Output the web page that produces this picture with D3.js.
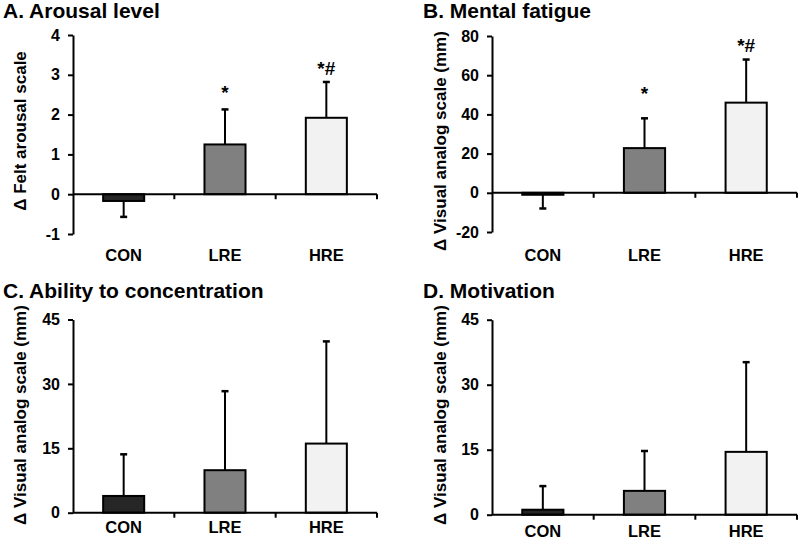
<!DOCTYPE html>
<html><head><meta charset="utf-8">
<script src="https://cdn.jsdelivr.net/npm/d3@7"></script>
<style>
body{margin:0;background:#fff;}
text{font-family:"Liberation Sans",Arial,sans-serif;font-weight:bold;fill:#000;}
</style></head>
<body><svg id="c" width="800" height="544"></svg>
<script>
// ---- data ----
const categories = ["CON", "LRE", "HRE"];
const barColors = ["#262626", "#808080", "#f2f2f2"];

const arousalMean = [-0.17, 1.25, 1.92];
const arousalErr  = [0.40, 0.88, 0.90];
const arousalSig  = ["", "*", "*#"];
const arousalSigY = [null, 2.39, 2.99];
const arousalTicks = [-1, 0, 1, 2, 3, 4];

const fatigueMean = [-1, 22.8, 46];
const fatigueErr  = [7, 15.2, 22];
const fatigueSig  = ["", "*", "*#"];
const fatigueSigY = [null, 47.6, 71.6];
const fatigueTicks = [-20, 0, 20, 40, 60, 80];

const concMean = [3.9, 9.9, 16.1];
const concErr  = [9.7, 18.4, 23.8];
const motivMean = [1.15, 5.5, 14.5];
const motivErr  = [5.45, 9.2, 20.7];
const vasTicks = [0, 15, 30, 45];

const panels = [
  {title:"A. Arousal level", ylabel:"Δ Felt arousal scale", mean:arousalMean, err:arousalErr, sig:arousalSig, sigY:arousalSigY, ticks:arousalTicks,
   tx:3, ty:18, x0:73, x1:377, yTop:35, yBot:234, labX:26, labY:131, catY:261},
  {title:"B. Mental fatigue", ylabel:"Δ Visual analog scale (mm)", mean:fatigueMean, err:fatigueErr, sig:fatigueSig, sigY:fatigueSigY, ticks:fatigueTicks,
   tx:423, ty:18, x0:492, x1:797, yTop:36, yBot:232, labX:446, labY:141, catY:261},
  {title:"C. Ability to concentration", ylabel:"Δ Visual analog scale (mm)", mean:concMean, err:concErr, sig:null, sigY:null, ticks:vasTicks,
   tx:3, ty:298, x0:73, x1:377, yTop:319.5, yBot:512.7, labX:26, labY:415, catY:533},
  {title:"D. Motivation", ylabel:"Δ Visual analog scale (mm)", mean:motivMean, err:motivErr, sig:null, sigY:null, ticks:vasTicks,
   tx:423, ty:298, x0:492, x1:797, yTop:319.7, yBot:514.7, labX:446, labY:415, catY:537}
];

const svg = d3.select("#c");

panels.forEach(p => {
  const g = svg.append("g");
  const x = d3.scaleBand().domain(categories).range([p.x0, p.x1]).padding(0);
  const y = d3.scaleLinear().domain(d3.extent(p.ticks)).range([p.yBot, p.yTop]);
  const bw = x.bandwidth() * 0.405;
  const cx = c => x(c) + x.bandwidth() / 2;

  // title
  g.append("text").attr("x", p.tx).attr("y", p.ty).attr("font-size", 21).text(p.title);
  // y label
  g.append("text").attr("transform", `translate(${p.labX},${p.labY}) rotate(-90)`)
    .attr("text-anchor", "middle").attr("font-size", 17).text(p.ylabel);

  // error bars (drawn first so bars cover the start)
  const data = categories.map((c, i) => ({c, m: p.mean[i], e: p.err[i], i}));
  data.forEach(d => {
    const dir = d.m < 0 ? -1 : 1;
    const end = d.m + dir * d.e;
    g.append("line").attr("x1", cx(d.c)).attr("x2", cx(d.c))
      .attr("y1", y(d.m)).attr("y2", y(end)).attr("stroke", "#000").attr("stroke-width", 2);
    g.append("line").attr("x1", cx(d.c) - 3.5).attr("x2", cx(d.c) + 3.5)
      .attr("y1", y(end)).attr("y2", y(end)).attr("stroke", "#000").attr("stroke-width", 2.5);
  });

  // bars
  g.selectAll("rect.bar").data(data).enter().append("rect")
    .attr("x", d => cx(d.c) - bw / 2)
    .attr("width", bw)
    .attr("y", d => Math.min(y(d.m), y(0)))
    .attr("height", d => Math.abs(y(d.m) - y(0)))
    .attr("fill", d => barColors[d.i]).attr("stroke", "#000").attr("stroke-width", 2);

  // y axis
  const ya = d3.axisLeft(y).tickValues(p.ticks).tickSize(5).tickSizeOuter(0).tickPadding(8).tickFormat(d => String(d));
  const yg = g.append("g").attr("transform", `translate(${p.x0},0)`).call(ya);
  yg.select(".domain").attr("stroke-width", 2);
  yg.selectAll(".tick line").attr("stroke-width", 2);
  yg.selectAll(".tick text").attr("font-size", 16).style("font-family", '"Liberation Sans",Arial,sans-serif').style("font-weight", "bold");

  // x axis at zero
  g.append("line").attr("x1", p.x0).attr("x2", p.x1).attr("y1", y(0)).attr("y2", y(0))
    .attr("stroke", "#000").attr("stroke-width", 2);
  categories.forEach(c => {
    const tx = x(c) + x.bandwidth();
    g.append("line").attr("x1", tx).attr("x2", tx).attr("y1", y(0)).attr("y2", y(0) + 5)
      .attr("stroke", "#000").attr("stroke-width", 2);
  });

  // category labels
  g.selectAll("text.cat").data(categories).enter().append("text")
    .attr("x", c => cx(c)).attr("y", p.catY).attr("text-anchor", "middle").attr("font-size", 16.5).text(c => c);

  // significance marks
  if (p.sig) {
    categories.forEach((c, i) => {
      if (!p.sig[i]) return;
      g.append("text").attr("x", cx(c)).attr("y", y(p.sigY[i])).attr("text-anchor", "middle")
        .attr("font-size", 19).text(p.sig[i]);
    });
  }
});
</script>
</body></html>
